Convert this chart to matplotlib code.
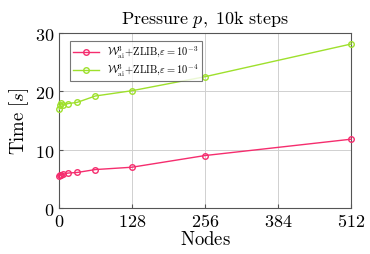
import matplotlib
matplotlib.use("Agg")
import matplotlib.pyplot as plt

plt.rcParams["mathtext.fontset"] = "cm"
plt.rcParams["font.family"] = ["DejaVu Serif"]

nodes = [1, 2, 4, 8, 16, 32, 64, 128, 256, 512]
time_e3 = [5.5, 5.6, 5.7, 5.8, 6.0, 6.1, 6.6, 7.0, 9.0, 11.8]
time_e4 = [16.9, 17.6, 18.0, 17.6, 17.9, 18.1, 19.2, 20.1, 22.5, 28.1]
labels = [r"$\mathcal{W}^3_{\mathrm{ai}}\!+\!\mathrm{ZLIB},\!\varepsilon = 10^{-3}$",
          r"$\mathcal{W}^3_{\mathrm{ai}}\!+\!\mathrm{ZLIB},\!\varepsilon = 10^{-4}$"]
xticks = [0, 128, 256, 384, 512]
yticks = [0, 10, 20, 30]

fig = plt.figure(figsize=(3.7, 2.55), dpi=100)
ax = fig.add_axes([0.159, 0.18, 0.79, 0.687])

ax.plot(nodes, time_e3, color="#f52d6e", marker="o", ms=4, mfc="none",
        mew=1.0, lw=1.0, label=labels[0], clip_on=False, zorder=3)
ax.plot(nodes, time_e4, color="#9ee02c", marker="o", ms=4, mfc="none",
        mew=1.0, lw=1.0, label=labels[1], clip_on=False, zorder=3)

ax.set_xlim(0, 512)
ax.set_ylim(0, 30)
ax.set_xticks(xticks)
ax.set_yticks(yticks)
ax.set_xticklabels(["$%d$" % t for t in xticks], fontsize=13)
ax.set_yticklabels(["$%d$" % t for t in yticks], fontsize=13)
ax.tick_params(axis="x", direction="in", length=3, color="#555555", pad=3)
ax.tick_params(axis="y", direction="in", length=3, color="#555555", pad=3)
ax.grid(color="#d0d0d0", lw=0.7)
ax.set_axisbelow(True)
for s in ax.spines.values():
    s.set_color("#555555")
    s.set_linewidth(0.8)

ax.set_xlabel(r"$\mathrm{Nodes}$", fontsize=13.5, labelpad=0)
ax.set_ylabel(r"$\mathrm{Time}\ [s]$", fontsize=13.5, labelpad=3)
ax.set_title(r"$\mathrm{Pressure}\ p\mathrm{,\ 10k\ steps}$", fontsize=13, pad=7)

leg = ax.legend(loc="upper left", fontsize=7.5, frameon=True, fancybox=False,
                edgecolor="#555555", handlelength=2.5, borderpad=0.3,
                labelspacing=0.2, bbox_to_anchor=(0.02, 0.985))
leg.get_frame().set_linewidth(0.8)

fig.savefig("out.png", dpi=100)
